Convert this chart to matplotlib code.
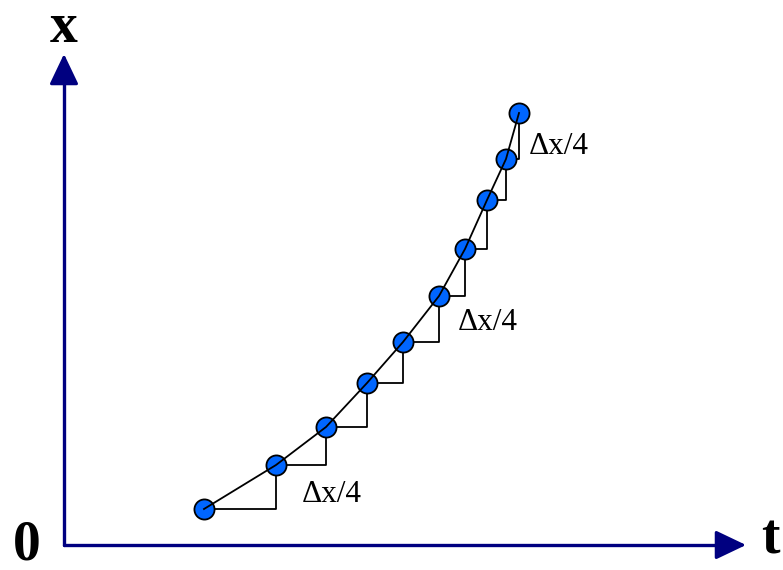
import matplotlib.pyplot as plt

# positions of the points, origin at the corner of the axes
t_vals = [140, 212, 262, 303, 339, 375, 401, 423, 442, 455]
x_vals = [36, 80, 118, 162, 203, 249, 296, 345, 386, 432]

# which steps get a label, and where the label sits
label_text = '\u0394x/4'
label_pos = [(238, 51), (394, 222), (465, 399)]

navy = '#000080'
dot_blue = '#0066FF'

fig = plt.figure(figsize=(7.83, 5.70), dpi=100)
ax = fig.add_axes([0, 0, 1, 1])
ax.set_xlim(-64, 719)
ax.set_ylim(-25, 545)
ax.axis('off')

# axes with arrow heads
head = dict(arrowstyle='-|>,head_length=1.3,head_width=0.62', color=navy,
            lw=2.2, mutation_scale=14.5, shrinkA=0, shrinkB=0)
ax.plot([0, 665], [0, 0], color=navy, lw=2.4, solid_capstyle='round')
ax.plot([0, 0], [0, 475], color=navy, lw=2.4, solid_capstyle='round')
ax.annotate('', xy=(682, 0), xytext=(660, 0), arrowprops=head)
ax.annotate('', xy=(0, 491), xytext=(0, 470), arrowprops=head)

# step triangles: across then up to the next point
for i in range(len(t_vals) - 1):
    ax.plot([t_vals[i], t_vals[i + 1], t_vals[i + 1]],
            [x_vals[i], x_vals[i], x_vals[i + 1]],
            color='black', lw=1.3, zorder=2)

ax.plot(t_vals, x_vals, 'o', ms=14.5, mfc=dot_blue, mec='black', mew=1.3,
        zorder=4)
ax.plot(t_vals, x_vals, color='black', lw=1.3, zorder=5)

for px, py in label_pos:
    ax.text(px, py, label_text, fontsize=22.5, family='Liberation Serif',
            ha='left', va='center')

ax.text(0, 517, 'x', fontsize=40, family='Liberation Serif',
        fontweight='bold', ha='center', va='center')
ax.text(706, 5, 't', fontsize=40, family='Liberation Serif',
        fontweight='bold', ha='center', va='center')
ax.text(-37, -1, '0', fontsize=40, family='Liberation Serif',
        fontweight='bold', ha='center', va='center')

fig.savefig('out.png', dpi=100)
